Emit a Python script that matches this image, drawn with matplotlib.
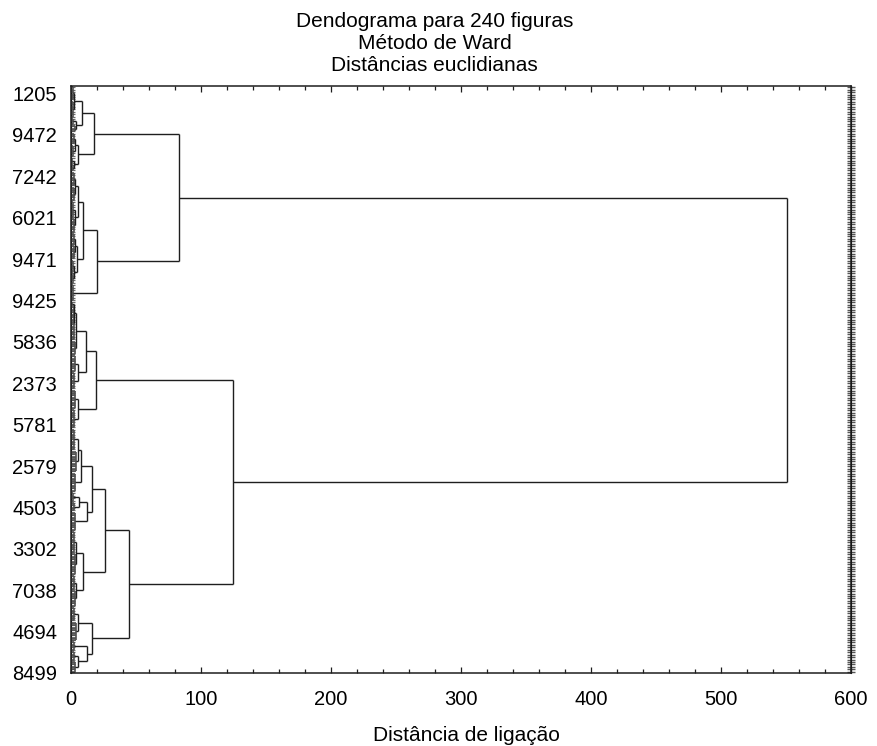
import matplotlib
matplotlib.use("Agg")
import matplotlib.pyplot as plt
from matplotlib.collections import LineCollection
import numpy as np

plt.rcParams["font.family"] = ["Liberation Sans", "DejaVu Sans"]

# Leaf groups in top-to-bottom order: name, number of figures, join height.
GROUP_NAMES = ["a1", "a2", "a3", "a4", "a5", "a6", "a7", "a8", "a9", "a10",
               "a11", "a12", "a13", "a14", "a15", "a16", "a17",
               "b1", "b2", "b3", "b4", "b5", "b6", "b7", "b8", "b9", "b10",
               "b11a", "b11b", "b12", "b13", "b14", "b15", "b16", "b17",
               "b18", "b19", "b20", "b21"]
GROUP_SIZES = [6, 7, 3, 3, 5, 5, 3, 3, 6, 6,
               7, 6, 5, 6, 5, 5, 7,
               2, 14, 6, 7, 7, 8, 8, 9, 9, 8,
               4, 4, 8, 9, 9, 6, 7, 6,
               8, 4, 4, 5]
GROUP_HEIGHTS = [1.2, 1.8, 1.5, 3.0, 2.2, 1.6, 1.0, 1.4, 2.0, 2.6,
                 1.5, 2.2, 2.0, 2.6, 1.4, 1.9, 1.2,
                 1.0, 2.0, 3.2, 3.4, 2.0, 3.0, 2.4, 2.6, 3.6, 3.2,
                 1.8, 2.6, 3.4, 2.0, 2.8, 2.4, 3.2, 2.2,
                 3.6, 2.0, 2.6, 3.0]

# Merges, bottom up: new cluster, upper child, lower child, linkage distance.
MERGES = [
    ("T1", "a1", "a2", 2.4),
    ("T2", "a3", "a4", 4.2),
    ("A1a", "T1", "T2", 8.5),
    ("T3", "a5", "a6", 3.0),
    ("T4", "a7", "a8", 2.0),
    ("A1b", "T3", "T4", 5.0),
    ("A1", "A1a", "A1b", 17.4),
    ("a9a10", "a9", "a10", 3.4),
    ("a11a12", "a11", "a12", 3.0),
    ("A2a1", "a9a10", "a11a12", 5.0),
    ("a13a14", "a13", "a14", 3.4),
    ("a15a16", "a15", "a16", 2.6),
    ("A2a2", "a13a14", "a15a16", 4.5),
    ("A2a", "A2a1", "A2a2", 9.0),
    ("A2", "A2a", "a17", 20.0),
    ("A", "A1", "A2", 83.0),
    ("b1b2", "b1", "b2", 2.6),
    ("B1a_top", "b1b2", "b3", 4.0),
    ("B1a_bot", "b4", "b5", 5.0),
    ("B1a", "B1a_top", "B1a_bot", 11.5),
    ("B1b", "b6", "b7", 5.0),
    ("B1", "B1a", "B1b", 19.0),
    ("b8b9", "b8", "b9", 5.0),
    ("B2a1a", "b8b9", "b10", 7.7),
    ("b11", "b11a", "b11b", 6.0),
    ("B2a1b", "b11", "b12", 12.0),
    ("B2a1", "B2a1a", "B2a1b", 16.0),
    ("b13b14", "b13", "b14", 3.8),
    ("b15b16", "b15", "b16", 4.0),
    ("B2a2", "b13b14", "b15b16", 9.0),
    ("B2a", "B2a1", "B2a2", 26.0),
    ("B2b1", "b17", "b18", 5.0),
    ("b20b21", "b20", "b21", 5.0),
    ("B2b2", "b19", "b20b21", 12.0),
    ("B2b", "B2b1", "B2b2", 16.0),
    ("B2", "B2a", "B2b", 44.6),
    ("B", "B1", "B2", 124.6),
    ("root", "A", "B", 551.0),
]

LEAF_LABELS = ["1205", "9472", "7242", "6021", "9471", "9425", "5836", "2373",
               "5781", "2579", "4503", "3302", "7038", "4694", "8499"]
N_LEAVES = sum(GROUP_SIZES)

# --- build segments ---------------------------------------------------------
nodes = {}
fine_segs = []
start = 0
for name, n, h in zip(GROUP_NAMES, GROUP_SIZES, GROUP_HEIGHTS):
    ys = np.arange(start, start + n) + 0.5
    for y in ys:
        fine_segs.append([(0.0, y), (h, y)])
    fine_segs.append([(h, ys[0]), (h, ys[-1])])
    nodes[name] = (ys.mean(), h)
    start += n

main_segs = []
for name, left, right, h in MERGES:
    yl, hl = nodes[left]
    yr, hr = nodes[right]
    main_segs.append([(hl, yl), (h, yl)])
    main_segs.append([(hr, yr), (h, yr)])
    main_segs.append([(h, yl), (h, yr)])
    nodes[name] = ((yl + yr) / 2.0, h)

# --- figure -----------------------------------------------------------------
fig = plt.figure(figsize=(8.78, 7.46), dpi=100)
ax = fig.add_axes([71 / 878, 1 - 673 / 746, 780 / 878, 587 / 746])

ax.add_collection(LineCollection(fine_segs, colors="#505050", linewidths=1.2))
ax.add_collection(LineCollection(main_segs, colors="#1e1e1e", linewidths=1.0))

ax.set_xlim(0, 600)
ax.set_ylim(N_LEAVES, 0)

ax.set_xticks(np.arange(0, 601, 100))
ax.set_xticks(np.arange(0, 601, 20), minor=True)
ax.tick_params(axis="x", which="both", direction="in", top=True, bottom=True,
               width=0.9, color="#1e1e1e", labelsize=14.5, pad=12)
ax.tick_params(axis="x", which="major", length=4)
ax.tick_params(axis="x", which="minor", length=3)

label_pos = np.linspace(3.1, 240.0, len(LEAF_LABELS))
ax.set_yticks(label_pos, labels=LEAF_LABELS)
ax.tick_params(axis="y", length=0, pad=10, labelsize=14.5)

# one short gray tick per figure on both vertical spines
leaf_pos = np.arange(N_LEAVES) + 0.5
sec_r = ax.secondary_yaxis("right")
sec_r.set_yticks(leaf_pos)
sec_r.tick_params(direction="inout", length=6, width=1.0, color="#555555",
                  labelright=False)
sec_l = ax.secondary_yaxis("left")
sec_l.set_yticks(leaf_pos)
sec_l.tick_params(direction="in", length=3, width=0.9, color="#6a6a6a",
                  labelleft=False)

for side in ["left", "right", "top", "bottom"]:
    ax.spines[side].set_linewidth(1.1)
    ax.spines[side].set_color("#1e1e1e")

for text, base in zip(["Dendograma para 240 figuras", "Método de Ward",
                       "Distâncias euclidianas"], [27, 49, 71]):
    fig.text(0.495, 1 - base / 746, text, ha="center", va="baseline",
             fontsize=15)

fig.text(466 / 878, 1 - 741 / 746, "Distância de ligação", ha="center",
         va="baseline", fontsize=15)

fig.savefig("out.png", dpi=100)
